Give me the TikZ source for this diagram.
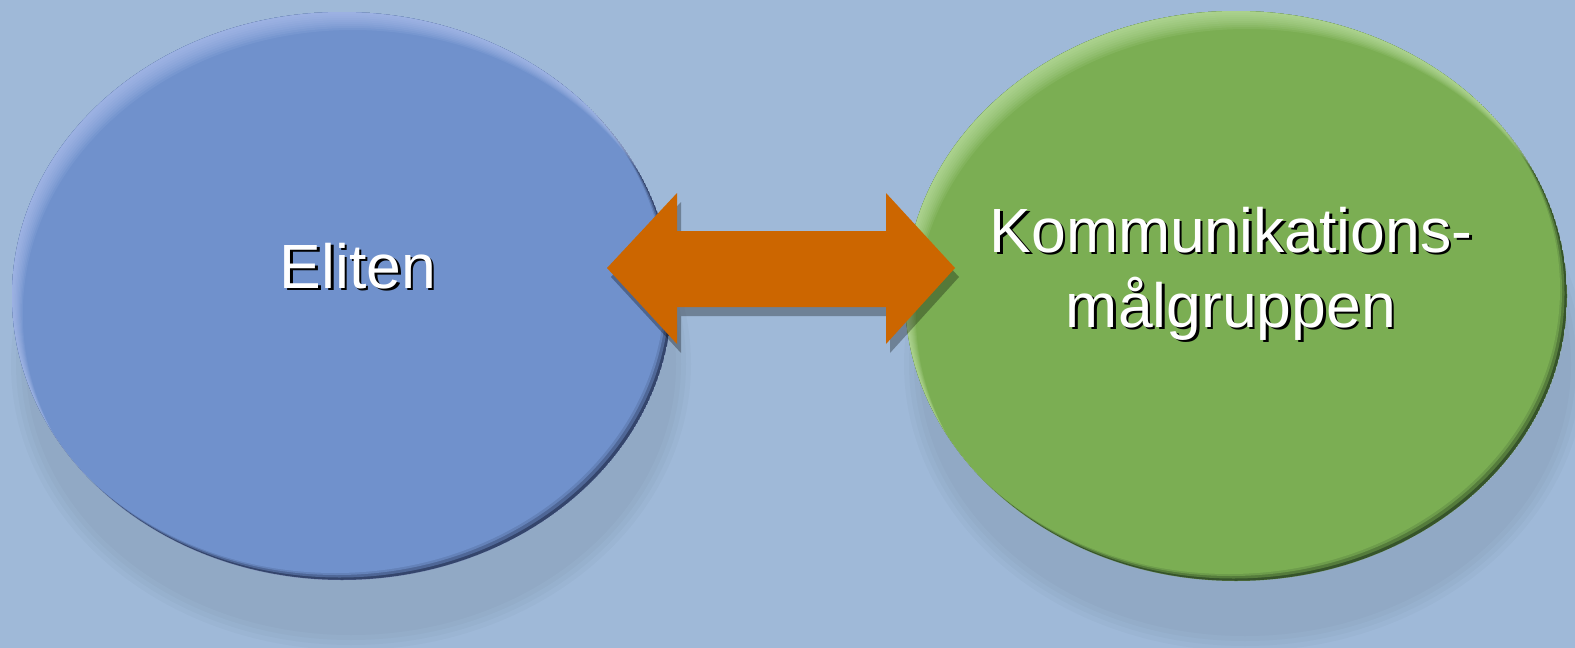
\documentclass[tikz,border=0pt]{standalone}
\usepackage{fontspec}
\setmainfont{Liberation Sans}

\definecolor{bgblue}{HTML}{9FB9D8}
\definecolor{eliteMain}{HTML}{7091CC}
\definecolor{eliteDark}{HTML}{34456C}
\definecolor{eliteLight}{HTML}{B8C8F2}
\definecolor{targetMain}{HTML}{7BAE53}
\definecolor{targetDark}{HTML}{36542A}
\definecolor{targetLight}{HTML}{C8E8B0}
\definecolor{arrowOrange}{HTML}{CC6600}

% A bevelled disc with a soft drop shadow:
% #1,#2 centre, #3 x radius, #4 y radius, #5 fill, #6 dark rim, #7 light rim
\newcommand{\bevelDisc}[7]{%
  \foreach \r in {0,5,10,15}{%
    \fill[black,opacity=0.02] (#1+9,#2+68) ellipse [x radius=#3+10-\r, y radius=#4+2-\r];
  }
  \begin{scope}
    \clip (#1,#2) ellipse [x radius=#3, y radius=#4];
    \fill[#6] (#1,#2) ellipse [x radius=#3, y radius=#4];
    \fill[#6!55!#5] (#1-2.5,#2-2.5) ellipse [x radius=#3, y radius=#4];
    \fill[#6!20!#5] (#1-5,#2-5) ellipse [x radius=#3, y radius=#4];
    \fill[#5] (#1-7,#2-7) ellipse [x radius=#3, y radius=#4];
    \foreach \k in {2,4,...,18}{%
      \fill[#7,opacity=0.11,even odd rule]
        (#1,#2) ellipse [x radius=#3, y radius=#4]
        (#1+0.6*\k,#2+\k) ellipse [x radius=#3, y radius=#4];
    }
  \end{scope}
}

% outline of the double block arrow, starting at its left tip #1 and with its right tip at #2
\newcommand{\blockArrowPath}[2]{%
  (#1) -- ++(70,-75) -- ++(0,38) -- ++(209,0) -- ++(0,-38)
  -- (#2) -- ++(-69,76) -- ++(0,-37) -- ++(-209,0) -- ++(0,37) -- cycle}

\tikzset{
  label text/.style={font=\fontsize{62.5}{75}\selectfont, text=white, align=center, inner sep=0pt},
  label shadow/.style={label text, text=black},
  block arrow/.style={fill=arrowOrange},
  block arrow shadow/.style={fill=black, opacity=0.3},
}

\begin{document}
\begin{tikzpicture}[x=1pt,y=-1pt]
  % canvas
  \fill[bgblue] (0,0) rectangle (1575,648);
  \useasboundingbox (0,0) rectangle (1575,648);

  % the two groups
  \bevelDisc{342}{296}{330}{284}{eliteMain}{eliteDark}{eliteLight}
  \bevelDisc{1236}{296}{331}{285}{targetMain}{targetDark}{targetLight}

  % double block arrow between the groups, with its shadow
  \coordinate (tipL) at (607,268);
  \coordinate (tipR) at (955,268);
  \coordinate (tipLs) at ([shift={(4,9)}]tipL);
  \coordinate (tipRs) at ([shift={(4,9)}]tipR);
  \fill[block arrow shadow] \blockArrowPath{tipLs}{tipRs};
  \fill[block arrow] \blockArrowPath{tipL}{tipR};

  % labels with a hard black shadow
  \node[label shadow, anchor=base] (eliteS) at (360.5,290.5) {Eliten};
  \node[label text, anchor=base] (elite) at (358,288) {Eliten};

  \node[label shadow, anchor=base] (targetS) at (1233.5,329.5) {Kommunikations-\\målgruppen};
  \node[label text, anchor=base] (target) at (1231,327) {Kommunikations-\\målgruppen};
\end{tikzpicture}
\end{document}
